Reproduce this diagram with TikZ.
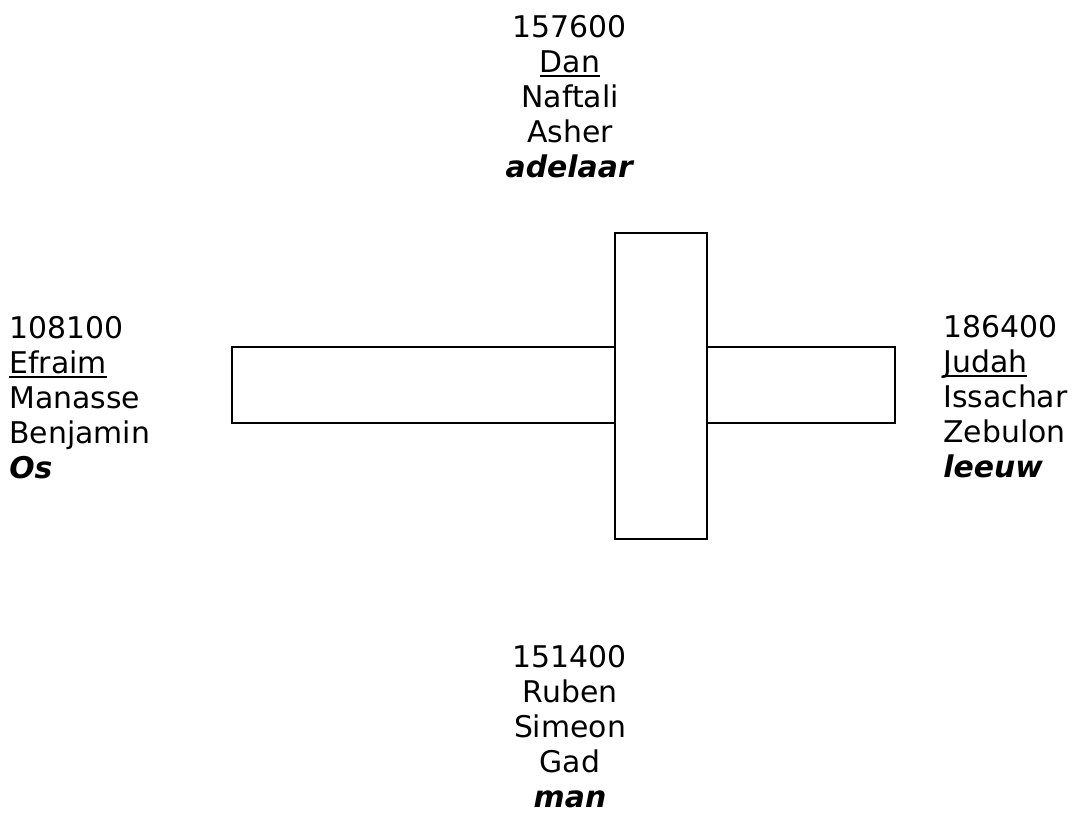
\documentclass[tikz,border=0pt]{standalone}
\usepackage{fontspec}
\setmainfont{DejaVu Sans}
\usepackage{tikz}
\newcommand\tribefont{\fontsize{17}{19.9}\selectfont}
\newcommand\ulname[1]{\setbox0\hbox{#1}\rlap{\rule[-2.6pt]{\wd0}{1pt}}\box0}
\newcommand\beast[1]{\textbf{\textit{#1}}}
\tikzset{
	tribe/.style={font=\tribefont, inner sep=0pt},
	bar/.style={draw, line width=1.1pt, fill=white},
}

\begin{document}
\begin{tikzpicture}
			%%%%% START %%%%%
			\useasboundingbox (0, 0) rectangle (21.64, 16.68);
			
			\draw[bar] (4.64, 8.22) rectangle (17.9, 9.74);
			\draw[bar] (12.3, 5.9) rectangle (14.14, 12.02);
			
			\node[tribe, align=center, anchor=north] (noord) at (11.4, 16.38) {157600\\ \ulname{Dan}\\ Naftali\\ Asher\\ \beast{adelaar}};
			\node[tribe, align=left, anchor=north west] (west) at (0.18, 10.36) {108100\\ \ulname{Efraim}\\ Manasse\\ Benjamin\\ \beast{Os}};
			\node[tribe, align=left, anchor=north west] (oost) at (18.86, 10.38) {186400\\ \ulname{Judah}\\ Issachar\\ Zebulon\\ \beast{leeuw}};
			\node[tribe, align=center, anchor=north] (zuid) at (11.4, 3.78) {151400\\ Ruben\\ Simeon\\ Gad\\ \beast{man}};
			
			%%%%% END %%%%%
		\end{tikzpicture}
\end{document}
